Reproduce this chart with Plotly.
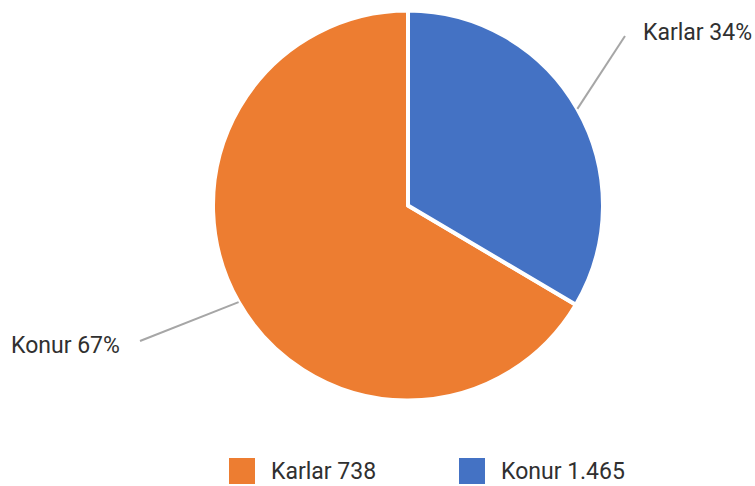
import math
import plotly.graph_objects as go

# Data (as shown in the reference chart)
legend_labels = ["Karlar 738", "Konur 1.465"]
values = [1465, 738]
slice_labels = ["Konur 67%", "Karlar 34%"]
colors = ["#ED7D31", "#4472C4"]

W, H = 755, 486
CX, CY, R = 408, 205.5, 195  # pie centre / radius in pixels
FONT = "Roboto, 'Liberation Sans Narrow', sans-serif"
TXT = "#303030"

total = sum(values)
start_deg = 360.0 * values[1] / total  # first slice ends at 12 o'clock

fig = go.Figure(go.Pie(
    labels=legend_labels,
    values=values,
    marker=dict(colors=colors, line=dict(color="white", width=4)),
    sort=False,
    direction="clockwise",
    rotation=start_deg,
    textinfo="none",
    hoverinfo="label+percent",
    showlegend=False,
    domain=dict(x=[(CX - R) / W, (CX + R) / W], y=[1 - (CY + R) / H, 1 - (CY - R) / H]),
))

# leader lines + labels, starting at slice mid-angles
label_pos = [(140, 341, 122, 345, "right"), (625, 36, 641, 33, "left")]
shapes, annotations = [], []
cum = 0.0
for v, txt, (ex, ey, lx, ly, anchor) in zip(values, slice_labels, label_pos):
    mid = cum + v / 2
    cum += v
    ang = math.radians(start_deg) + 2 * math.pi * mid / total  # clockwise from top
    sx = CX + R * math.sin(ang)
    sy = CY - R * math.cos(ang)
    shapes.append(dict(type="line", xref="paper", yref="paper",
                       x0=sx / W, y0=1 - sy / H, x1=ex / W, y1=1 - ey / H,
                       line=dict(color="#A6A6A6", width=2)))
    annotations.append(dict(xref="paper", yref="paper", x=lx / W, y=1 - ly / H,
                            text=txt, showarrow=False, xanchor=anchor, yanchor="middle",
                            font=dict(family=FONT, size=23, color=TXT)))

# legend drawn manually (large squares)
legend_x = [229, 459]
for lbl, col, x0 in zip(legend_labels, colors, legend_x):
    shapes.append(dict(type="rect", xref="paper", yref="paper",
                       x0=x0 / W, x1=(x0 + 26) / W, y0=1 - 484 / H, y1=1 - 458 / H,
                       fillcolor=col, line=dict(width=0)))
    annotations.append(dict(xref="paper", yref="paper", x=(x0 + 40) / W, y=1 - 471 / H,
                            text=lbl, showarrow=False, xanchor="left", yanchor="middle",
                            font=dict(family=FONT, size=23, color=TXT)))

fig.update_layout(
    width=W, height=H,
    margin=dict(l=0, r=0, t=0, b=0),
    paper_bgcolor="white", plot_bgcolor="white",
    shapes=shapes, annotations=annotations,
)
fig.write_html("out.html", config={"displayModeBar": False},
               post_script="document.body.style.margin='0';document.body.style.overflow='hidden';")
